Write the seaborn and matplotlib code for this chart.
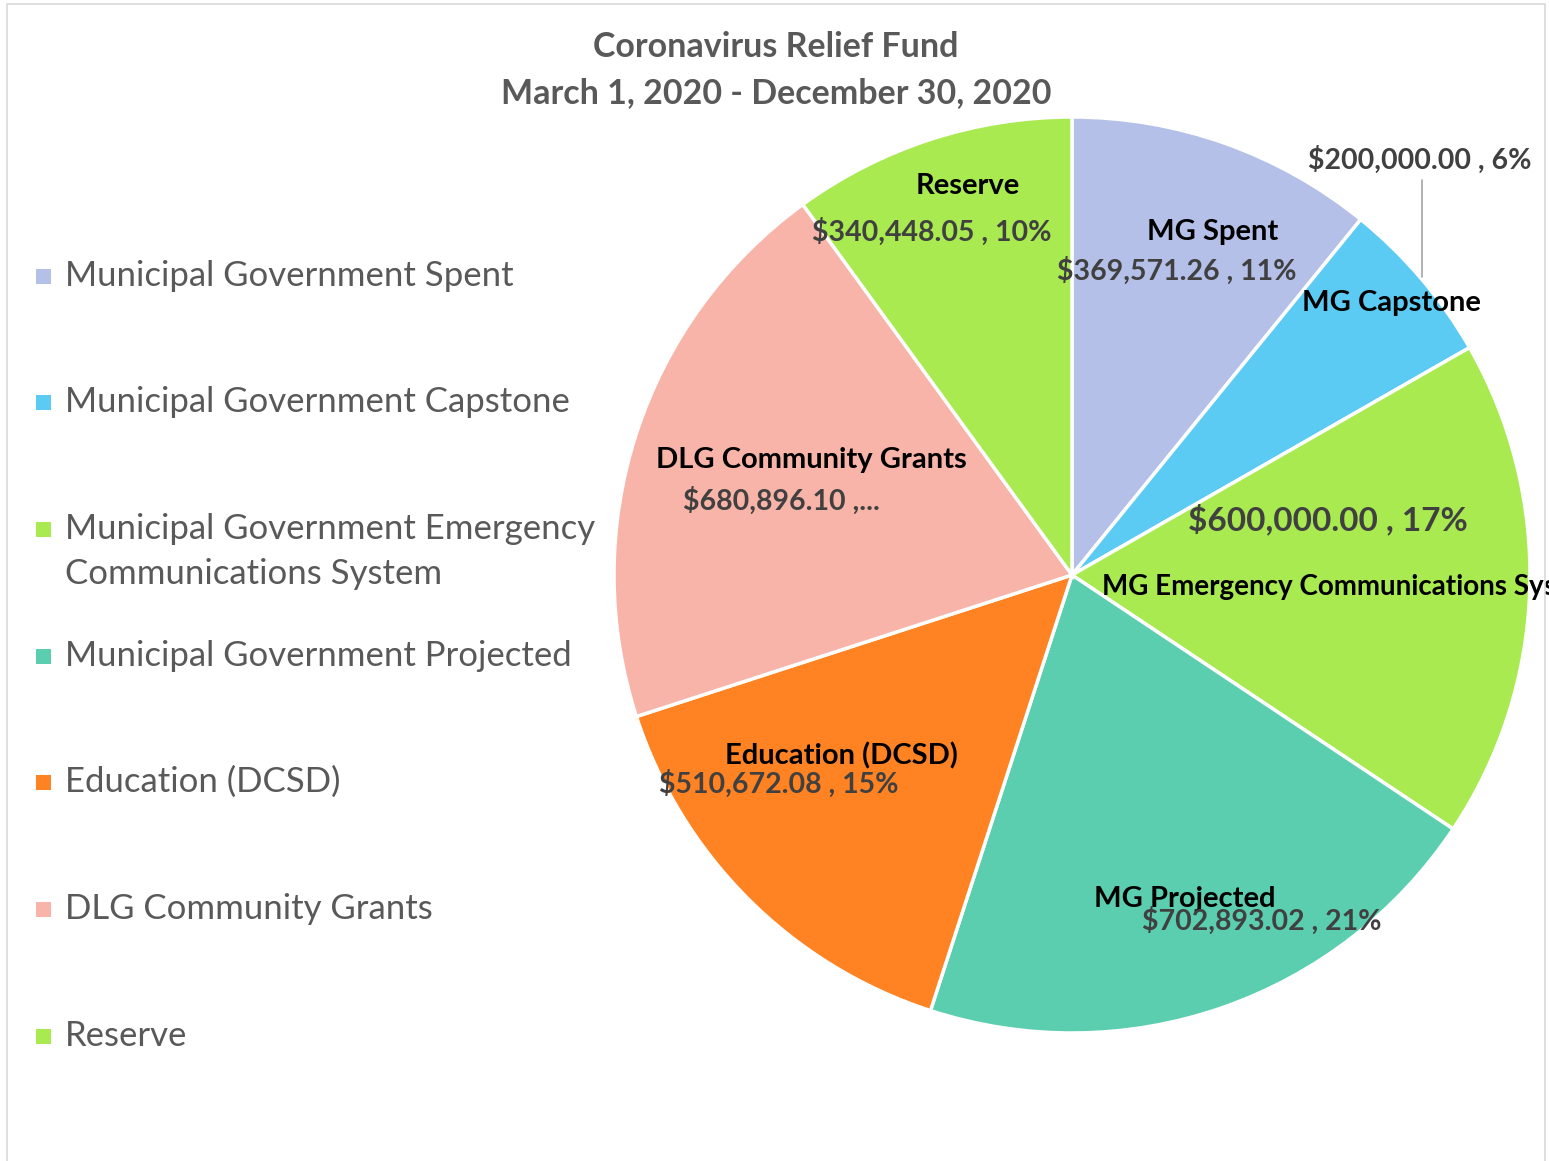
import matplotlib
matplotlib.use("Agg")
import matplotlib.pyplot as plt
import matplotlib.patches as mpatches
import seaborn as sns

# ---- data ----
categories = ["Municipal Government Spent", "Municipal Government Capstone",
              "Municipal Government Emergency\nCommunications System",
              "Municipal Government Projected", "Education (DCSD)",
              "DLG Community Grants", "Reserve"]
short_names = ["MG Spent", "MG Capstone", "MG Emergency Communications System",
               "MG Projected", "Education (DCSD)", "DLG Community Grants", "Reserve"]
values = [369571.26, 200000.00, 600000.00, 702893.02, 510672.08, 680896.10, 340448.05]
value_labels = ["$369,571.26 , 11%", "$200,000.00 , 6%", "$600,000.00 , 17%",
                "$702,893.02 , 21%", "$510,672.08 , 15%", "$680,896.10 ,...",
                "$340,448.05 , 10%"]
colors = ["#B4C0E8", "#5BCBF3", "#A9EA50", "#5BCEB0", "#FF8223", "#F8B4A8", "#A9EA50"]
title_lines = ["Coronavirus Relief Fund", "March 1, 2020 - December 30, 2020"]

sns.set_theme(style="white")
plt.rcParams["font.family"] = ["Lato", "DejaVu Sans"]

W, H = 1549, 1161
fig = plt.figure(figsize=(W / 100, H / 100), dpi=100)
fig.patch.set_facecolor("white")

cx, cy, R = 1072, 575, 458
ax = fig.add_axes([(cx - R) / W, (H - cy - R) / H, 2 * R / W, 2 * R / H])
wedges, _ = ax.pie(values, colors=colors, startangle=90, counterclock=False,
                   radius=1.0, wedgeprops=dict(edgecolor="white", linewidth=2.5))
ax.set_xlim(-1, 1)
ax.set_ylim(-1, 1)
ax.set_aspect("equal")
ax.axis("off")

# label layout positions (axes data units), names then values
name_pos = [(0.306, 0.749), (0.697, 0.594), (0.0655, -0.026), (0.247, -0.707),
            (-0.504, -0.395), (-0.570, 0.251), (-0.227, 0.849)]
val_pos = [(0.229, 0.664), (0.760, 0.906), (0.559, 0.122), (0.415, -0.755),
           (-0.640, -0.456), (-0.635, 0.162), (-0.306, 0.749)]

frame = mpatches.Rectangle((7 / W, -0.05), (1545 - 7) / W, 1 - 4 / H + 0.05,
                           transform=fig.transFigure, facecolor="none",
                           edgecolor="#D9D9D9", linewidth=1.2)
fig.patches.append(frame)
clip_rect = mpatches.Rectangle((7 / W, 0), (1544 - 7) / W, 1,
                               transform=fig.transFigure, facecolor="none", edgecolor="none")

name_fs = 21
val_fs = 20.5
for i, name in enumerate(short_names):
    ha = "left" if i == 2 else "center"
    nfs = 20 if i == 2 else name_fs
    t = ax.text(*name_pos[i], name, ha=ha, va="center", fontsize=nfs,
                fontweight="bold", color="black", clip_on=False)
    t.set_clip_path(clip_rect)
    fs = 24 if i == 2 else val_fs
    ax.text(*val_pos[i], value_labels[i], ha="center", va="center", fontsize=fs,
            fontweight="bold", color="#404040", clip_on=False)

# leader line for capstone
ax.plot([0.764, 0.764], [0.862, 0.651], color="#A6A6A6", linewidth=1.2, clip_on=False)

# title
for line, ty in zip(title_lines, [47, 93]):
    fig.text(776 / W, 1 - ty / H, line, ha="center", va="center", fontsize=24.5,
             fontweight="bold", color="#595959")

# legend (manual)
leg_y = [276, 402, 529, 656, 782, 909, 1036]
line_gap = 45
for i, cat in enumerate(categories):
    y = leg_y[i]
    fig.patches.append(mpatches.Rectangle((36 / W, 1 - (y + 8) / H), 15 / W, 15 / H,
                                          transform=fig.transFigure,
                                          facecolor=colors[i], edgecolor="none"))
    for k, part in enumerate(cat.split("\n")):
        fig.text(65 / W, 1 - (y + k * line_gap) / H, part, ha="left", va="center",
                 fontsize=25, color="#595959")

fig.savefig("out.png", dpi=100, facecolor="white")
